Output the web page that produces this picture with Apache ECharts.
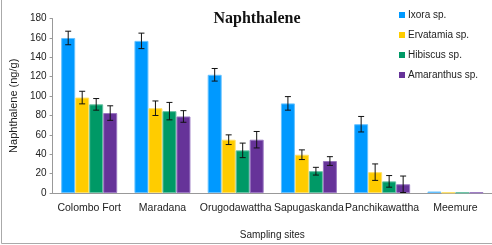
<!DOCTYPE html>
<html><head><meta charset="utf-8">
<script src="https://cdn.jsdelivr.net/npm/echarts@6/dist/echarts.min.js"></script>
<style>html,body{margin:0;padding:0;background:#fff}#c{width:492px;height:245px}</style>
</head><body><div id="c"></div>
<script>
const categories = ['Colombo Fort','Maradana','Orugodawattha','Sapugaskanda','Panchikawattha','Meemure'];
const seriesNames = ['Ixora sp.','Ervatamia sp.','Hibiscus sp.','Amaranthus sp.'];
const ixora = [160, 157, 122, 92.5, 71, 1.5];
const ervatamia = [98.5, 87.5, 55, 39.5, 21.5, 0.5];
const hibiscus = [91.5, 84.5, 44, 22.5, 12, 0.5];
const amaranthus = [82.5, 79, 55, 33, 9, 0.5];
const ixoraErr = [7, 8, 6.5, 7, 8, 0];
const ervatamiaErr = [6.5, 7.5, 5, 5, 8.5, 0];
const hibiscusErr = [6, 9, 7.5, 4, 6, 0];
const amaranthusErr = [7.5, 6, 8.5, 4.5, 8.5, 0];
const yTicks = [0,20,40,60,80,100,120,140,160,180];

const colors = ['#0099FF','#FFCC00','#009966','#663399'];
const borders = ['#66C2FF','#FFE066','#66C2A3','#9A77C2'];
const values = [ixora, ervatamia, hibiscus, amaranthus];
const errs = [ixoraErr, ervatamiaErr, hibiscusErr, amaranthusErr];
const BW = 14;

const chart = echarts.init(document.getElementById('c'));
const series = [];
values.forEach((v, i) => {
  series.push({
    name: seriesNames[i], type: 'bar', data: v, barWidth: BW, barGap: '0%',
    itemStyle: {color: colors[i], borderColor: borders[i], borderWidth: 1}
  });
});
values.forEach((v, i) => {
  const off = (i - 1.5) * BW;
  series.push({
    type: 'custom', silent: true, z: 5,
    data: v.map((val, k) => [k, val - errs[i][k], val + errs[i][k]]),
    renderItem: function (params, api) {
      if (api.value(2) - api.value(1) <= 0) return null;
      const c = api.coord([api.value(0), api.value(1)]);
      const t = api.coord([api.value(0), api.value(2)]);
      const x = c[0] + off;
      const st = {stroke: '#111', lineWidth: 1};
      return {type: 'group', children: [
        {type: 'line', shape: {x1: x, y1: c[1], x2: x, y2: t[1]}, style: st},
        {type: 'line', shape: {x1: x - 3, y1: c[1], x2: x + 3, y2: c[1]}, style: st},
        {type: 'line', shape: {x1: x - 3, y1: t[1], x2: x + 3, y2: t[1]}, style: st}
      ]};
    }
  });
});

chart.setOption({
  animation: false,
  title: {text: 'Naphthalene', left: 252, top: 6, textAlign: 'center',
    textStyle: {fontFamily: 'Liberation Serif', fontWeight: 'bold', fontSize: 16, color: '#111'}},
  legend: {data: seriesNames, orient: 'vertical', left: 394, top: 5, itemWidth: 6, itemHeight: 6,
    itemGap: 10, icon: 'rect', itemStyle: {borderWidth: 0},
    textStyle: {fontFamily: 'Liberation Sans', fontSize: 10, color: '#222', padding: [0,0,0,-2]}},
  grid: {left: 44, top: 18.6, width: 458, height: 176.4},
  xAxis: {type: 'category', data: categories, name: 'Sampling sites', nameLocation: 'middle', nameGap: 37,
    nameTextStyle: {fontFamily: 'Liberation Sans', fontSize: 10, color: '#222'},
    axisLine: {lineStyle: {color: '#999'}}, axisTick: {length: 4, lineStyle: {color: '#999'}},
    axisLabel: {fontFamily: 'Liberation Sans', fontSize: 10.5, color: '#222', margin: 10, interval: 0}},
  yAxis: {type: 'value', min: 0, max: 180, interval: 20, name: 'Naphthalene (ng/g)', nameLocation: 'middle', nameGap: 28,
    nameTextStyle: {fontFamily: 'Liberation Sans', fontSize: 11, color: '#222'},
    axisLine: {show: true, lineStyle: {color: '#999'}}, axisTick: {show: true, length: 3, lineStyle: {color: '#999'}},
    splitLine: {show: false},
    axisLabel: {fontFamily: 'Liberation Sans', fontSize: 10, color: '#222', margin: 6,
      formatter: v => yTicks.includes(v) ? String(v) : ''}},
  graphic: [{type: 'polyline', silent: true, shape: {points: [[1.5, 0], [1.5, 243.5], [492, 243.5]]},
    style: {stroke: '#aaa', lineWidth: 1, fill: null}}],
  series: series
});
</script></body></html>
